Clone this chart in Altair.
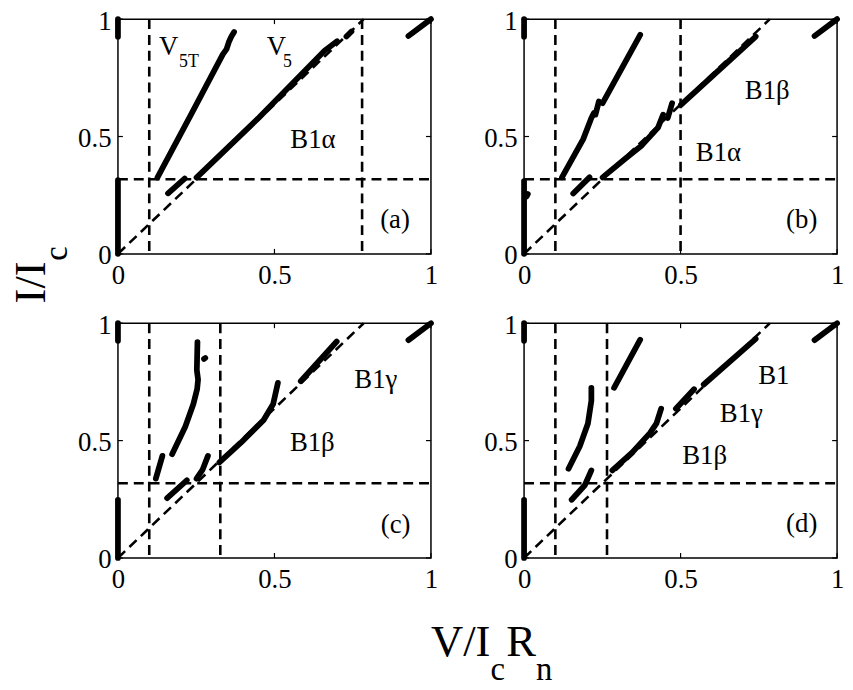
import altair as alt
import pandas as pd

W, H = 316, 237
FONT = "Liberation Serif"

TICKS = [0, 0.5, 1]
DIAG_END = (0.785, 1.0)          # dashed diagonal from origin
H_LEVEL = 0.318                  # dashed horizontal level
V_A = [0.1, 0.78]
V_B = [0.1, 0.5]
V_C = [0.1, 0.327]
V_D = [0.1, 0.265]

# pieces common to every panel
LEFT_TOP = [(0, 0.925), (0, 1.0)]
TOP_RIGHT = [(0.928, 0.928), (1.0, 1.0)]

# panel (a)
A_LEFT = [(0, 0.0), (0, 0.314)]
A_V5T = [(0.126, 0.325), (0.23, 0.585), (0.335, 0.85), (0.347, 0.872), (0.355, 0.905), (0.362, 0.925), (0.371, 0.945)]
A_DIAG = [(0.16, 0.258), (0.213, 0.321)]
A_V5 = [(0.251, 0.325), (0.45, 0.58), (0.66, 0.865), (0.70, 0.906)]
A_TOP = [(0.73, 0.926), (0.746, 0.947)]

# panel (b)
B_LEFT = [(0, 0.0), (0, 0.31)]
B_DOT = [(0.008, 0.245), (0.012, 0.255)]
B_UP1 = [(0.121, 0.326), (0.189, 0.489), (0.215, 0.579), (0.223, 0.6)]
B_UP2 = [(0.228, 0.593), (0.239, 0.649)]
B_UP3 = [(0.251, 0.642), (0.371, 0.933)]
B_DIAG = [(0.157, 0.257), (0.209, 0.326)]
B_LOW1 = [(0.251, 0.326), (0.324, 0.406), (0.376, 0.462), (0.428, 0.538), (0.444, 0.593)]
B_LOW2 = [(0.459, 0.579), (0.473, 0.642)]
B_LOW3 = [(0.501, 0.635), (0.74, 0.926)]

# panel (c)
C_LEFT = [(0, 0.0), (0, 0.248)]
C_UP1 = [(0.121, 0.338), (0.142, 0.435)]
C_UP2 = [(0.173, 0.442), (0.215, 0.559), (0.241, 0.656), (0.253, 0.72), (0.256, 0.76), (0.252, 0.80), (0.254, 0.92)]
C_DOT = [(0.275, 0.848), (0.279, 0.852)]
C_DIAG = [(0.157, 0.255), (0.22, 0.331)]
C_MID = [(0.251, 0.338), (0.27, 0.375), (0.2875, 0.435)]
C_LOW = [(0.324, 0.407), (0.392, 0.49), (0.465, 0.587), (0.496, 0.656), (0.511, 0.746)]
C_TOP = [(0.584, 0.753), (0.699, 0.922)]

# panel (d)
D_LEFT = [(0, 0.0), (0, 0.248)]
D_UP = [(0.2875, 0.725), (0.371, 0.93)]
D_MID = [(0.142, 0.38), (0.178, 0.476), (0.204, 0.573), (0.215, 0.67), (0.215, 0.725)]
D_SMALL = [(0.152, 0.248), (0.194, 0.31), (0.215, 0.373)]
D_LOW = [(0.282, 0.373), (0.345, 0.449), (0.402, 0.532), (0.423, 0.573), (0.438, 0.636)]
D_DIAG1 = [(0.485, 0.636), (0.543, 0.719)]
D_DIAG2 = [(0.574, 0.739), (0.74, 0.933)]

# region labels (text, x, y)
A_LABELS = [("B1α", 0.623, 0.453), ("(a)", 0.885, 0.112)]
A_MAIN = [("V", 0.131, 0.849), ("V", 0.475, 0.849)]
A_SUB = [("5T", 0.195, 0.794), ("5", 0.527, 0.794)]
B_LABELS = [("B1β", 0.777, 0.658), ("B1α", 0.621, 0.395), ("(b)", 0.887, 0.112)]
C_LABELS = [("B1γ", 0.824, 0.723), ("B1β", 0.621, 0.456), ("(c)", 0.887, 0.105)]
D_LABELS = [("B1", 0.798, 0.739), ("B1γ", 0.694, 0.58), ("B1β", 0.577, 0.40), ("(d)", 0.887, 0.11)]

XS = alt.Scale(domain=[0, 1], nice=False, zero=False)
YS = alt.Scale(domain=[0, 1], nice=False, zero=False)


def panel(segments, vlines, labels, main=None, sub=None, extra=None):
    rows = []
    for k, pts in enumerate(segments):
        for i, (x, y) in enumerate(pts):
            rows.append(dict(seg=k, i=i, x=x, y=y))
    curves = alt.Chart(pd.DataFrame(rows)).mark_line(
        color="black", strokeWidth=5.8, strokeCap="round", strokeJoin="round"
    ).encode(
        x=alt.X("x:Q", scale=XS, axis=alt.Axis(values=TICKS, format="~g", title=None)),
        y=alt.Y("y:Q", scale=YS, axis=alt.Axis(values=TICKS, format="~g", title=None)),
        detail="seg:N",
        order="i:Q",
    )
    g = [dict(x=0, y=0, x2=DIAG_END[0], y2=DIAG_END[1]), dict(x=0, y=H_LEVEL, x2=1, y2=H_LEVEL)]
    g += [dict(x=v, y=1, x2=v, y2=0) for v in vlines]
    guides = alt.Chart(pd.DataFrame(g)).mark_rule(
        color="black", strokeWidth=2.6, strokeDash=[10, 6]
    ).encode(x=alt.X("x:Q", scale=XS), y=alt.Y("y:Q", scale=YS), x2="x2:Q", y2="y2:Q")

    tk = alt.Chart(pd.DataFrame({"t": TICKS}))
    tick_layers = [
        tk.mark_rule(color="black", strokeWidth=1.2).encode(x=alt.X("t:Q", scale=XS), y=alt.value(H), y2=alt.value(H - 5)),
        tk.mark_rule(color="black", strokeWidth=1.2).encode(x=alt.X("t:Q", scale=XS), y=alt.value(0), y2=alt.value(5)),
        tk.mark_rule(color="black", strokeWidth=1.2).encode(y=alt.Y("t:Q", scale=YS), x=alt.value(0), x2=alt.value(5)),
        tk.mark_rule(color="black", strokeWidth=1.2).encode(y=alt.Y("t:Q", scale=YS), x=alt.value(W - 5), x2=alt.value(W)),
    ]

    lab = pd.DataFrame(labels, columns=["t", "x", "y"])
    texts = [alt.Chart(lab).mark_text(font=FONT, fontSize=27, align="center", baseline="alphabetic", color="black").encode(
        x=alt.X("x:Q", scale=XS), y=alt.Y("y:Q", scale=YS), text="t:N")]
    if main:
        texts.append(alt.Chart(pd.DataFrame(main, columns=["t", "x", "y"])).mark_text(
            font=FONT, fontSize=27, align="left", baseline="alphabetic", color="black").encode(
            x=alt.X("x:Q", scale=XS), y=alt.Y("y:Q", scale=YS), text="t:N"))
    if sub:
        texts.append(alt.Chart(pd.DataFrame(sub, columns=["t", "x", "y"])).mark_text(
            font=FONT, fontSize=18, align="left", baseline="alphabetic", color="black").encode(
            x=alt.X("x:Q", scale=XS), y=alt.Y("y:Q", scale=YS), text="t:N"))
    layers = [guides, curves] + tick_layers + texts + (extra or [])
    return alt.layer(*layers).properties(width=W, height=H)


def title_piece(txt, x, y, size, angle=0):
    props = dict(font=FONT, fontSize=size, align="left", baseline="alphabetic", color="black")
    if angle:
        props["angle"] = angle
    return alt.Chart(pd.DataFrame({"t": [txt]})).mark_text(**props).encode(
        text="t:N", x=alt.value(x), y=alt.value(y))


y_title = [title_piece("I/I", -74, 287, 45, 270), title_piece("c", -51, 244, 33, 270)]
x_title = [
    title_piece("V/I", 316, H + 99, 45),
    title_piece("c", 376, H + 123, 33),
    title_piece("R", 392, H + 99, 45),
    title_piece("n", 422, H + 123, 33),
]

pa = panel([LEFT_TOP, TOP_RIGHT, A_LEFT, A_V5T, A_DIAG, A_V5, A_TOP], V_A, A_LABELS, A_MAIN, A_SUB, extra=y_title)
pb = panel([LEFT_TOP, TOP_RIGHT, B_LEFT, B_DOT, B_UP1, B_UP2, B_UP3, B_DIAG, B_LOW1, B_LOW2, B_LOW3], V_B, B_LABELS)
pc = panel([LEFT_TOP, TOP_RIGHT, C_LEFT, C_UP1, C_UP2, C_DOT, C_DIAG, C_MID, C_LOW, C_TOP], V_C, C_LABELS, extra=x_title)
pd_ = panel([LEFT_TOP, TOP_RIGHT, D_LEFT, D_UP, D_MID, D_SMALL, D_LOW, D_DIAG1, D_DIAG2], V_D, D_LABELS)

chart = alt.concat(
    pa, pb, pc, pd_, columns=2, spacing={"row": 70, "column": 94}, bounds="flush",
    padding={"left": 0, "top": -5, "right": 0, "bottom": -5},
).configure_view(
    stroke="black", strokeWidth=1.5
).configure_axis(
    labelFont=FONT, labelFontSize=27, labelColor="black", domain=False, grid=False,
    ticks=False, labelFlush=False,
).configure_axisX(labelPadding=9).configure_axisY(labelPadding=7, labelOffset=2)

chart.save("out.html", embed_options={"renderer": "svg", "actions": False})
